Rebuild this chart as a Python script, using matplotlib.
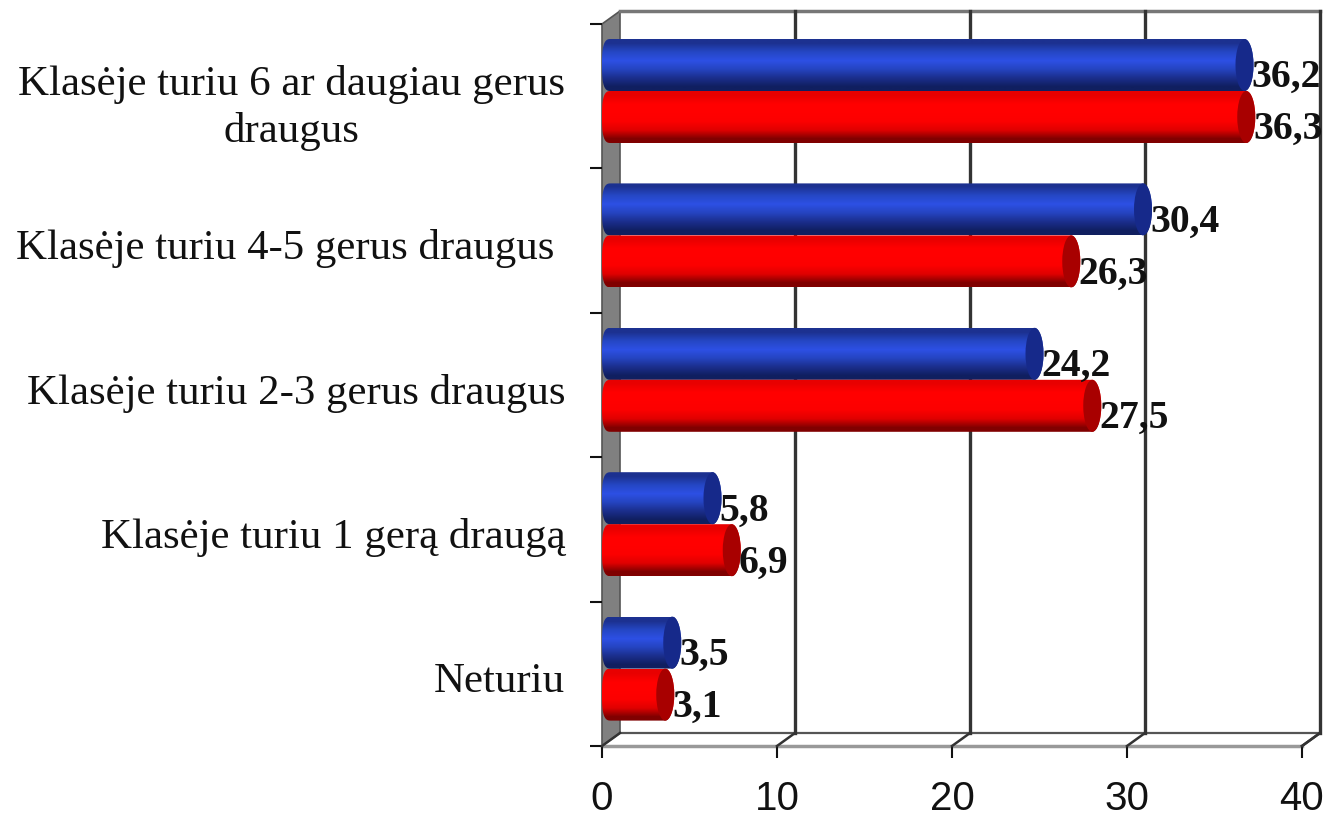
import numpy as np
import matplotlib
matplotlib.use("Agg")
import matplotlib.pyplot as plt
from matplotlib.path import Path
from matplotlib.patches import PathPatch, Polygon, Ellipse

categories = [
    "Klasėje turiu 6 ar daugiau gerus\ndraugus",
    "Klasėje turiu 4-5 gerus draugus ",
    "Klasėje turiu 2-3 gerus draugus",
    "Klasėje turiu 1 gerą draugą",
    "Neturiu",
]
blue_values = [36.2, 30.4, 24.2, 5.8, 3.5]
red_values = [36.3, 26.3, 27.5, 6.9, 3.1]
value_ticks = [0, 10, 20, 30, 40]

W, H = 1328, 816
PX_X = 700 / 40  # pixels per unit
PX_Y = 722 / 5

# 3d look: how far the back wall is shifted
DX = 18 / PX_X
DY = 13 / PX_Y
BAR_H = 52 / PX_Y
BAR_TOP = 15 / PX_Y

blue_grad = ["#1c3190", "#2547c4", "#2d50e4", "#2544c0", "#1b2e8c", "#101f60"]
red_grad = ["#e80000", "#ff0000", "#ff0000", "#fc0000", "#e00000", "#800000"]
blue_cap = "#16298a"
red_cap = "#a80000"


def to_rgb_column(colors):
    return np.array([[matplotlib.colors.to_rgb(c)] for c in colors])


def cylinder(ax, value, top, colors, cap):
    """Bar with rounded ends, left end sits on the wall."""
    rx = DX / 2
    ry = BAR_H / 2
    mid = top + ry
    end = value + rx
    t = np.linspace(-np.pi / 2, np.pi / 2, 40)
    right = np.column_stack([end + rx * np.cos(t), mid + ry * np.sin(t)])
    # left end is flatter than a real ellipse
    c = np.abs(np.cos(t[::-1])) ** (2 / 3)
    s = np.sign(np.sin(t[::-1])) * np.abs(np.sin(t[::-1])) ** (2 / 3)
    left = np.column_stack([rx - rx * c, mid + ry * s])
    verts = np.vstack([right, left, right[:1]])
    shape = PathPatch(Path(verts), transform=ax.transData, fc="none", ec="none")
    ax.add_patch(shape)
    im = ax.imshow(to_rgb_column(colors), extent=(0, end + rx, top + BAR_H, top),
                   aspect="auto", interpolation="bilinear", zorder=3)
    im.set_clip_path(shape)
    ax.add_patch(Ellipse((end, mid), DX, BAR_H, fc=cap, ec="none", zorder=3.1))
    ax.annotate(f"{value}".replace(".", ","), xy=(end + rx, mid), xytext=(-1.5, -16),
                textcoords="offset points", ha="left", va="baseline",
                family="Liberation Serif", weight="bold", fontsize=28.5,
                color="#111111", zorder=5, annotation_clip=False)


fig = plt.figure(figsize=(W / 100, H / 100), dpi=100, facecolor="white")
ax = fig.add_axes([602 / W, (H - 746) / H, 700 / W, 722 / H])
ax.set_facecolor("none")
for s in ax.spines.values():
    s.set_visible(False)

# left wall
ax.add_patch(Polygon([(0, 0), (DX, -DY), (DX, 5 - DY), (0, 5)], closed=True,
                     fc="#808080", ec="#555555", lw=1.2, clip_on=False, zorder=1))
# top and floor lines
ax.plot([DX, 40 + DX], [-DY, -DY], color="#777777", lw=2.5, clip_on=False, zorder=1)
ax.plot([DX, 40 + DX], [5 - DY, 5 - DY], color="#555555", lw=1.6, clip_on=False, zorder=1)
ax.plot([0, 40], [5, 5], color="#999999", lw=2.5, clip_on=False, zorder=1)
ax.plot([40, 40 + DX], [5, 5 - DY], color="#333333", lw=1.8, clip_on=False, zorder=1)
# grid on the back wall and floor
for v in value_ticks:
    if v > 0:
        ax.plot([v + DX, v + DX], [-DY, 5 - DY], color="#333333", lw=2.4, clip_on=False, zorder=2)
    ax.plot([v, v + DX], [5, 5 - DY], color="#333333", lw=1.8, clip_on=False, zorder=2)

for i in range(len(categories)):
    cylinder(ax, blue_values[i], i + BAR_TOP, blue_grad, blue_cap)
    cylinder(ax, red_values[i], i + BAR_TOP + BAR_H, red_grad, red_cap)

ax.set_xlim(0, 40)
ax.set_ylim(5, 0)

ax.set_xticks(value_ticks)
ax.set_xticklabels([str(v) for v in value_ticks], family="Liberation Sans", fontsize=29)
ax.tick_params(axis="x", length=8.6, width=1.5, color="#111111", pad=16, labelcolor="#111111")

ax.set_yticks(range(6))
ax.set_yticklabels([])
ax.set_yticks(np.arange(5) + 0.525, minor=True)
ax.set_yticklabels(categories, minor=True, family="Liberation Serif", fontsize=30.9,
                   ha="right", multialignment="center", linespacing=1.27, color="#111111")
ax.tick_params(axis="y", which="major", length=8.6, width=1.5, color="#111111")
ax.tick_params(axis="y", which="minor", length=0, pad=26.5)

fig.savefig("out.png", dpi=100)
